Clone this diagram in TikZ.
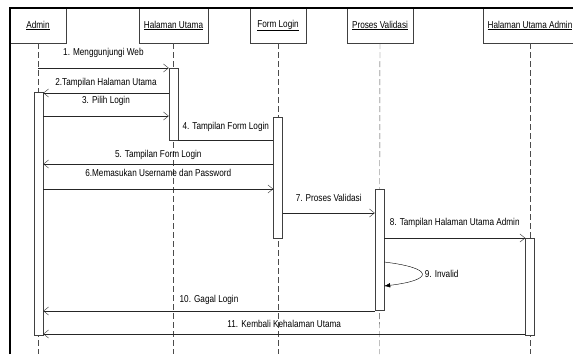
\documentclass[tikz,border=0pt]{standalone}
\usepackage{fontspec}
\setmainfont{Liberation Sans}[FakeStretch=0.82]
\usepackage{tikz}
\usetikzlibrary{arrows.meta}
\newcommand{\widthact}{9pt}
\newcommand{\heighthead}{35pt}
\newcommand{\msgfont}{\fontsize{10}{12}\selectfont}
\tikzset{
    common/.style={draw=black!75, rectangle, inner sep=0pt},
    head/.style={common, minimum height=\heighthead, font=\msgfont},
    act/.style={common, fill=white, minimum width=\widthact, anchor=north},
    lifeline/.style={draw=black!70, dash pattern=on 6pt off 3pt},
    plain/.style={draw=black!85},
    msg/.style={plain, -{Straight Barb[length=5pt, width=8pt]}},
    selfmsg/.style={draw=black, -{Latex[length=6pt, width=4.5pt]}},
    lbl/.style={anchor=base, inner sep=0pt, font=\msgfont},
    frame/.style={line width=2pt, black}
}

\begin{document}
\begin{tikzpicture}[x=1pt, y=-1pt]
    \useasboundingbox (0,0) rectangle (573,354);
    \clip (0,0) rectangle (573,354);

    % heads
    \node[head, minimum width=56pt] (admin) at (38,25.5) {\underline{Admin}};
    \node[head, minimum width=69pt] (hu) at (173.5,25.5) {\underline{Halaman Utama}};
    \node[head, minimum width=56pt] (fl) at (278,25.5) {\underline{Form Login}};
    \node[head, minimum width=66pt] (pv) at (380,25.5) {\underline{Proses Validasi}};
    \node[head, minimum width=94pt] (hua) at (530,25.5) {\underline{Halaman Utama Admin}};

    % lifelines
    \coordinate (admin-end) at (38,354);
    \coordinate (hu-end) at (173.5,354);
    \coordinate (fl-end) at (278,354);
    \coordinate (pv-end) at (379.5,354);
    \coordinate (hua-end) at (530,354);
    \draw[lifeline] (admin) -- (admin-end);
    \draw[lifeline] (hu) -- (hu-end);
    \draw[lifeline] (fl) -- (fl-end);
    \draw[lifeline] (pv) -- (pv-end);
    \draw[lifeline] (hua) -- (hua-end);

    % activations
    \node[act, minimum height=243pt] (admin-act) at (38.5,92) {};
    \node[act, minimum height=72pt] (hu-act) at (173.5,68) {};
    \node[act, minimum height=121pt] (fl-act) at (278,117) {};
    \node[act, minimum height=121pt] (pv-act) at (379.5,189) {};
    \node[act, minimum height=97pt] (hua-act) at (530,238) {};

    % message levels
    \coordinate (m1) at (0,68);
    \coordinate (m2) at (0,93);
    \coordinate (m3) at (0,116);
    \coordinate (m4) at (0,140);
    \coordinate (m5) at (0,164);
    \coordinate (m6) at (0,189);
    \coordinate (m7) at (0,213);
    \coordinate (m8) at (0,238);
    \coordinate (m9a) at (0,262);
    \coordinate (m9b) at (0,286);
    \coordinate (m10) at (0,311);
    \coordinate (m11) at (0,334);

    \draw[msg] (admin-end |- m1) -- (hu-act.west |- m1)
        node[lbl, midway, yshift=12.4pt] {1. Menggunjungi Web};
    \draw[msg] (hu-act.west |- m2) -- (admin-act.east |- m2)
        node[lbl, midway, yshift=7.4pt] {2.Tampilan Halaman Utama};
    \draw[msg] (admin-act.east |- m3) -- (hu-act.west |- m3)
        node[lbl, midway, yshift=12.4pt] {3. Pilih Login};
    \draw[plain] (fl-act.west |- m4) -- (hu-act.east |- m4)
        node[lbl, midway, yshift=10.4pt] {4. Tampilan Form Login};
    \draw[msg] (fl-act.west |- m5) -- (admin-act.east |- m5)
        node[lbl, midway, yshift=6.4pt] {5. Tampilan Form Login};
    \draw[msg] (admin-act.east |- m6) -- (fl-act.west |- m6)
        node[lbl, midway, yshift=12.4pt] {6.Memasukan Username dan Password};
    \draw[msg] (fl-act.east |- m7) -- (pv-act.west |- m7)
        node[lbl, midway, yshift=11.4pt] {7. Proses Validasi};
    \draw[msg] (pv-act.east |- m8) -- (hua-act.west |- m8)
        node[lbl, midway, yshift=12.4pt] {8. Tampilan Halaman Utama Admin};
    \draw[selfmsg] (pv-act.east |- m9a) .. controls +(50,6) and +(50,-6) .. (pv-act.east |- m9b)
        node[pos=0.5, anchor=west, xshift=3pt, inner sep=0pt, font=\msgfont] {9. Invalid};
    \draw[msg] (pv-act.west |- m10) -- (admin-act.east |- m10)
        node[lbl, midway, yshift=8.4pt] {10. Gagal Login};
    \draw[msg] (hua-act.west |- m11) -- (admin-act.east |- m11)
        node[lbl, midway, yshift=6.4pt] {11. Kembali Kehalaman Utama};

    % frame
    \draw[frame] (10,354) -- (10,8) -- (573,8);
\end{tikzpicture}
\end{document}
